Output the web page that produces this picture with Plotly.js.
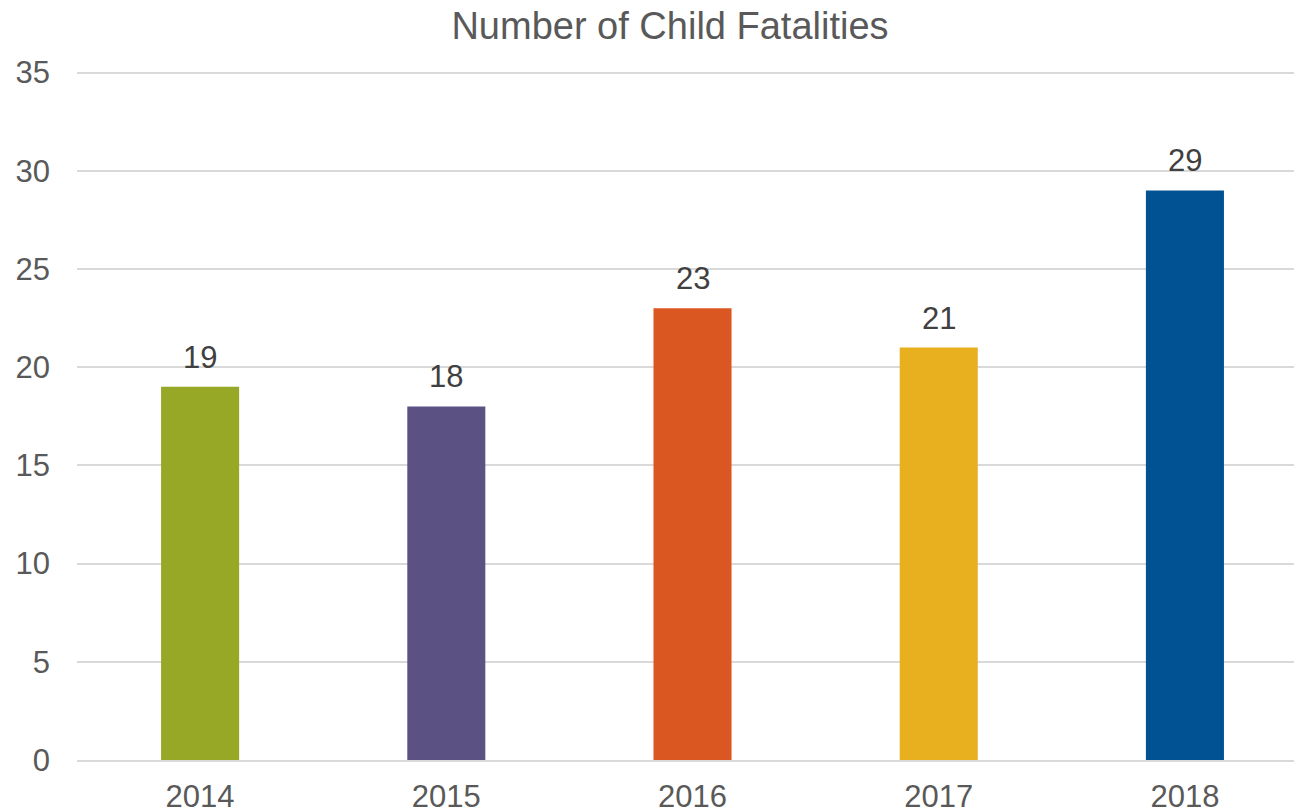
<!DOCTYPE html>
<html><head><meta charset="utf-8">
<script src="https://cdn.plot.ly/plotly-3.0.1.min.js"></script>
<style>html,body{margin:0;padding:0;background:#fff}#chart{width:1294px;height:812px}</style>
</head><body><div id="chart"></div>
<script>
const years = ['2014','2015','2016','2017','2018'];
const fatalities = [19, 18, 23, 21, 29];
const barColors = ['#97A826','#5B5283','#DB5721','#E8AF1E','#005293'];
const yTicks = [0,5,10,15,20,25,30,35];

const font = 'Liberation Sans, Arial, sans-serif';
const textColor = '#595959';

const trace = {
  type: 'bar', x: years, y: fatalities,
  marker: {color: barColors},
  width: 0.317,
  hoverinfo: 'x+y'
};

const annotations = years.map((yr, i) => ({
  x: i, y: fatalities[i], xref: 'x', yref: 'y',
  text: String(fatalities[i]), showarrow: false,
  yanchor: 'bottom', yshift: 10,
  font: {family: font, size: 31, color: '#404040'}
}));

const layout = {
  width: 1294, height: 812,
  margin: {l: 77, r: 0, t: 71.4, b: 52},
  paper_bgcolor: '#fff', plot_bgcolor: '#fff',
  title: {text: 'Number of Child Fatalities', font: {family: font, size: 38, color: textColor},
          xref: 'container', x: 670/1294, xanchor: 'center',
          yref: 'container', y: 1 - 26/812, yanchor: 'middle'},
  xaxis: {type: 'category', range: [-0.5, 4.443], showgrid: false,
          showline: true, linecolor: '#D9D9D9', linewidth: 2,
          ticks: '', tickfont: {family: font, size: 31, color: textColor},
          ticklabelstandoff: 8, fixedrange: true},
  yaxis: {range: [0, 35.08], tickvals: yTicks, ticktext: yTicks.map(String),
          showgrid: true, gridcolor: '#D9D9D9', gridwidth: 2, zeroline: false,
          showline: false, ticks: '',
          tickfont: {family: font, size: 31, color: textColor},
          ticklabelstandoff: 26, fixedrange: true},
  annotations: annotations,
  showlegend: false,
  bargap: 0.68
};

Plotly.newPlot('chart', [trace], layout, {displayModeBar: false, staticPlot: true});
</script></body></html>
